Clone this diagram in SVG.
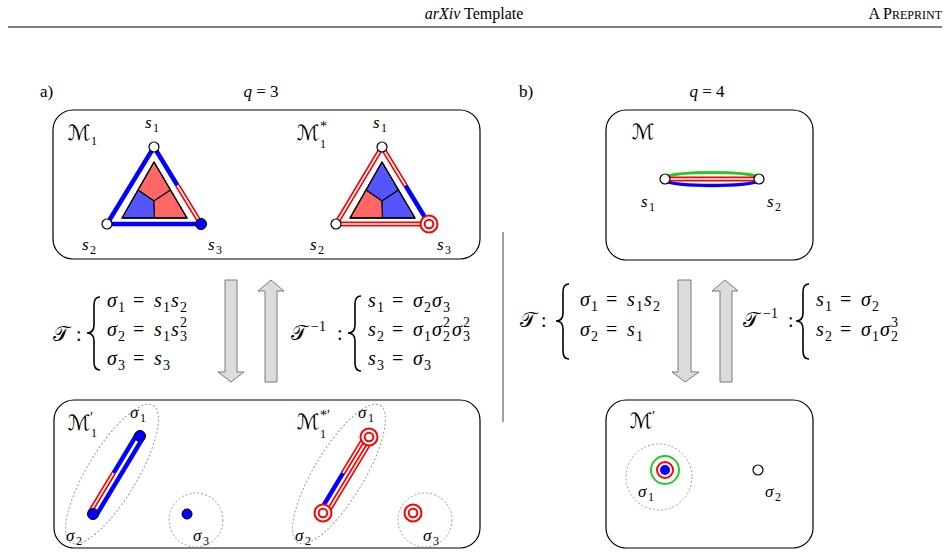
<svg xmlns="http://www.w3.org/2000/svg" width="948" height="557" viewBox="0 0 948 557">
<style>
text{font-family:"Liberation Serif","Times New Roman","DejaVu Serif",serif}
.t{fill:#000}
.m{font-style:italic;font-size:20px;fill:#000}
.m .d{font-style:normal;font-size:14px}
.m .u{font-style:normal}
.l{font-style:italic;font-size:17px;fill:#000}
.l .d{font-style:normal;font-size:12px}
.l .p{font-style:normal;font-size:14px}
.cal{font-family:"DejaVu Serif","DejaVu Sans","Noto Sans",serif;font-style:normal}
.box{fill:#fff;stroke:#000;stroke-width:1.2}
.node{fill:#fff;stroke:#000;stroke-width:1.2}
.bnode{fill:#0000ff;stroke:#000;stroke-width:1}
.blue{stroke:#0000ff;stroke-width:4.5;fill:none;stroke-linecap:butt}
.redo{stroke:#ff0000;stroke-width:5;fill:none}
.redi{stroke:#fff;stroke-width:1.6;fill:none}
.tri{stroke:#000;stroke-width:1.1;stroke-linejoin:round}
.dot{fill:none;stroke:#9a9a9a;stroke-width:1;stroke-dasharray:2 2}
.arr{fill:#dcdcdc;stroke:#7a7a7a;stroke-width:1}
.br{fill:none;stroke:#000;stroke-width:1.6}
.ring{fill:#fff;stroke:#ff0000;stroke-width:2}
</style>

<!-- header -->
<g id="header">
<text class="t" x="474" y="19" font-size="16" text-anchor="middle"><tspan font-style="italic">arXiv</tspan> Template</text>
<text class="t" x="942" y="19" font-size="16" text-anchor="end">A P<tspan font-size="12">REPRINT</tspan></text>
<line x1="8" y1="27" x2="942" y2="27" stroke="#000" stroke-width="1"/>
</g>

<g id="titles">
<text class="t" x="40" y="97" font-size="17">a)</text>
<text class="t" x="261" y="97" font-size="17" text-anchor="middle"><tspan font-style="italic">q</tspan> = 3</text>
<text class="t" x="519" y="97" font-size="17">b)</text>
<text class="t" x="707" y="97" font-size="17" text-anchor="middle"><tspan font-style="italic">q</tspan> = 4</text>
</g>

<line id="divider" x1="503" y1="232" x2="503" y2="422" stroke="#444" stroke-width="1"/>

<!-- boxes (background) -->
<g id="box-M1">
<rect class="box" x="53" y="110" width="427" height="149" rx="20"/>
<text class="l" x="68" y="140"><tspan class="cal" font-size="21">ℳ</tspan><tspan class="d" x="91" y="145">1</tspan></text>
<text class="l" x="297" y="140"><tspan class="cal" font-size="21">ℳ</tspan><tspan class="p" x="320" y="131">*</tspan><tspan class="d" x="320" y="148">1</tspan></text>
</g>
<g id="box-M1p">
<rect class="box" x="54" y="400" width="426" height="148" rx="20"/>
<text class="l" x="68" y="430"><tspan class="cal" font-size="21">ℳ</tspan><tspan class="p" x="90" y="422">′</tspan><tspan class="d" x="91" y="437">1</tspan></text>
<text class="l" x="297" y="429"><tspan class="cal" font-size="21">ℳ</tspan><tspan class="p" x="320" y="420">*′</tspan><tspan class="d" x="320" y="438">1</tspan></text>
</g>
<g id="box-M">
<rect class="box" x="606" y="110" width="207" height="150" rx="20"/>
<text class="l" x="632" y="139"><tspan class="cal" font-size="21">ℳ</tspan></text>
</g>
<g id="box-Mp">
<rect class="box" x="606" y="400" width="207" height="148" rx="20"/>
<text class="l" x="630" y="428"><tspan class="cal" font-size="21">ℳ</tspan><tspan class="p" x="652" y="421">′</tspan></text>
</g>

<g id="triangle-M1">
<polygon class="tri" fill="#ff6666" points="154,162 170.5,190 154,201 138,190"/>
<polygon class="tri" fill="#5555ff" points="138,190 154,201 154.5,218 122,218"/>
<polygon class="tri" fill="#ff6666" points="154,201 170.5,190 187,218 154.5,218"/>
<polygon points="154,162 122,218 187,218" fill="none" stroke="#000" stroke-width="1.3" stroke-linejoin="round"/>
</g>
<g id="triangle-M1star">
<polygon class="tri" fill="#5555ff" points="382,162 398.5,190 382,201 366,190"/>
<polygon class="tri" fill="#ff6666" points="366,190 382,201 382.5,218 350,218"/>
<polygon class="tri" fill="#5555ff" points="382,201 398.5,190 415,218 382.5,218"/>
<polygon points="382,162 350,218 415,218" fill="none" stroke="#000" stroke-width="1.3" stroke-linejoin="round"/>
</g>

<g id="regions">
<ellipse class="dot" cx="112" cy="474" rx="80" ry="25" transform="rotate(-59 112 474)"/>
<circle class="dot" cx="196" cy="520" r="27"/>
<ellipse class="dot" cx="339" cy="474" rx="80" ry="25" transform="rotate(-59 339 474)"/>
<circle class="dot" cx="425" cy="520" r="27"/>
<circle class="dot" cx="659" cy="477" r="33"/>
</g>

<g id="connectors">
<!-- M1 -->
<line class="blue" x1="154" y1="147" x2="107" y2="224"/>
<line class="blue" x1="107" y1="224" x2="201" y2="224"/>
<line class="blue" x1="154" y1="147" x2="177.5" y2="185.5"/>
<line class="redo" x1="177.5" y1="185.5" x2="201" y2="224"/>
<line class="redi" x1="177.5" y1="185.5" x2="201" y2="224"/>
<!-- M1* -->
<path class="redo" d="M405.5,185.5 L382,147 L336,224 L429,224"/>
<path class="redi" d="M405.5,185.5 L382,147 L336,224 L429,224"/>
<line class="blue" x1="405.5" y1="185.5" x2="429" y2="224"/>
<!-- M1' -->
<line class="blue" x1="96" y1="515.8" x2="143" y2="437.8"/>
<line class="blue" x1="113.5" y1="473.2" x2="137" y2="434.2"/>
<line class="redo" x1="90" y1="512.2" x2="113.5" y2="473.2"/>
<line class="redi" x1="90" y1="512.2" x2="113.5" y2="473.2"/>
<!-- M1*' -->
<line class="redo" x1="326" y1="514.8" x2="372" y2="438.8"/>
<line class="redi" x1="326" y1="514.8" x2="372" y2="438.8"/>
<line class="redo" x1="343" y1="473.2" x2="366" y2="435.2"/>
<line class="redi" x1="343" y1="473.2" x2="366" y2="435.2"/>
<line class="blue" x1="320" y1="511.2" x2="343" y2="473.2"/>
<!-- M (q=4) -->
<path d="M665,177 C680,171 744,171 759,177" fill="none" stroke="#22cc22" stroke-width="3"/>
<path d="M665,181 C680,187 744,187 759,181" fill="none" stroke="#0000ff" stroke-width="3.5"/>
<line class="redo" x1="665" y1="179" x2="759" y2="179"/>
<line class="redi" x1="665" y1="179" x2="759" y2="179"/>
</g>

<g id="nodes-M1">
<circle class="node" cx="154" cy="147" r="5"/>
<circle class="node" cx="107" cy="224" r="5"/>
<circle class="bnode" cx="201" cy="224" r="5.5"/>
<text class="l" x="145" y="128">s<tspan class="d" x="153" y="132">1</tspan></text>
<text class="l" x="82" y="250">s<tspan class="d" x="90" y="254">2</tspan></text>
<text class="l" x="208" y="250">s<tspan class="d" x="216" y="254">3</tspan></text>
</g>
<g id="nodes-M1star">
<circle class="node" cx="382" cy="147" r="5"/>
<circle class="node" cx="336" cy="224" r="5"/>
<circle class="ring" cx="429" cy="224" r="8.5"/>
<circle class="ring" cx="429" cy="224" r="4.3"/>
<text class="l" x="373" y="128">s<tspan class="d" x="381" y="132">1</tspan></text>
<text class="l" x="310" y="250">s<tspan class="d" x="318" y="254">2</tspan></text>
<text class="l" x="437" y="250">s<tspan class="d" x="445" y="254">3</tspan></text>
</g>

<!-- ========== panel a transforms ========== -->
<g id="transform-a">
<text class="m" x="53" y="341"><tspan class="cal" font-size="21">𝒯</tspan><tspan class="u" x="76" y="341">:</tspan></text>
<path class="br" d="M100,297 Q94,297 94,305 V325 Q94,333 87,333 Q94,333 94,341 V362 Q94,370 100,370"/>
<text class="m"><tspan x="107" y="307">σ</tspan><tspan class="d" x="118" y="312">1</tspan><tspan class="u" x="133" y="307">=</tspan><tspan x="154" y="307">s</tspan><tspan class="d" x="163" y="312">1</tspan><tspan x="171" y="307">s</tspan><tspan class="d" x="180" y="312">2</tspan></text>
<text class="m"><tspan x="107" y="336">σ</tspan><tspan class="d" x="118" y="341">2</tspan><tspan class="u" x="133" y="336">=</tspan><tspan x="154" y="336">s</tspan><tspan class="d" x="163" y="341">1</tspan><tspan x="171" y="336">s</tspan><tspan class="d" x="180" y="341">3</tspan><tspan class="d" x="180" y="327">2</tspan></text>
<text class="m"><tspan x="107" y="365">σ</tspan><tspan class="d" x="118" y="370">3</tspan><tspan class="u" x="133" y="365">=</tspan><tspan x="154" y="365">s</tspan><tspan class="d" x="163" y="370">3</tspan></text>

<polygon class="arr" points="225,280 237,280 237,372 244,372 231,382 218,372 225,372"/>
<polygon class="arr" points="271,280 284,291 277,291 277,382 265,382 265,291 258,291"/>

<text class="m" x="291" y="340"><tspan class="cal" font-size="21">𝒯</tspan><tspan class="d" x="311" y="331">−1</tspan><tspan class="u" x="337" y="340">:</tspan></text>
<path class="br" d="M361,296 Q355,296 355,304 V325 Q355,333 348,333 Q355,333 355,341 V363 Q355,371 361,371"/>
<text class="m"><tspan x="368" y="307">s</tspan><tspan class="d" x="377" y="312">1</tspan><tspan class="u" x="392" y="307">=</tspan><tspan x="413" y="307">σ</tspan><tspan class="d" x="424" y="312">2</tspan><tspan x="432" y="307">σ</tspan><tspan class="d" x="443" y="312">3</tspan></text>
<text class="m"><tspan x="368" y="336">s</tspan><tspan class="d" x="377" y="341">2</tspan><tspan class="u" x="392" y="336">=</tspan><tspan x="413" y="336">σ</tspan><tspan class="d" x="424" y="341">1</tspan><tspan x="432" y="336">σ</tspan><tspan class="d" x="443" y="341">2</tspan><tspan class="d" x="443" y="327">2</tspan><tspan x="452" y="336">σ</tspan><tspan class="d" x="463" y="341">3</tspan><tspan class="d" x="463" y="327">2</tspan></text>
<text class="m"><tspan x="368" y="365">s</tspan><tspan class="d" x="377" y="370">3</tspan><tspan class="u" x="392" y="365">=</tspan><tspan x="413" y="365">σ</tspan><tspan class="d" x="424" y="370">3</tspan></text>
</g>

<!-- ========== panel a bottom nodes ========== -->
<g id="nodes-M1p">
<circle class="bnode" cx="140" cy="436" r="5.5"/>
<circle class="bnode" cx="93" cy="514" r="5.5"/>
<circle class="bnode" cx="187" cy="514" r="5"/>
<text class="l" x="130" y="418">σ<tspan class="d" x="140" y="422">1</tspan></text>
<text class="l" x="66" y="541">σ<tspan class="d" x="76" y="545">2</tspan></text>
<text class="l" x="193" y="541">σ<tspan class="d" x="203" y="545">3</tspan></text>
</g>
<g id="nodes-M1starp">
<circle class="ring" cx="369" cy="437" r="8.5"/>
<circle class="ring" cx="369" cy="437" r="4.3"/>
<circle class="ring" cx="323" cy="513" r="8.5"/>
<circle class="ring" cx="323" cy="513" r="4.3"/>
<circle class="ring" cx="413" cy="513" r="8.5"/>
<circle class="ring" cx="413" cy="513" r="4.3"/>
<text class="l" x="358" y="418">σ<tspan class="d" x="368" y="422">1</tspan></text>
<text class="l" x="295" y="541">σ<tspan class="d" x="305" y="545">2</tspan></text>
<text class="l" x="423" y="541">σ<tspan class="d" x="433" y="545">3</tspan></text>
</g>

<!-- ========== panel b ========== -->
<g id="nodes-M">
<circle class="node" cx="665" cy="179" r="5"/>
<circle class="node" cx="759" cy="179" r="5"/>
<text class="l" x="641" y="207">s<tspan class="d" x="649" y="211">1</tspan></text>
<text class="l" x="767" y="207">s<tspan class="d" x="775" y="211">2</tspan></text>
</g>

<g id="transform-b">
<text class="m" x="520" y="327"><tspan class="cal" font-size="21">𝒯</tspan><tspan class="u" x="541" y="327">:</tspan></text>
<path class="br" d="M569,284 Q563,284 563,292 V313 Q563,321 556,321 Q563,321 563,329 V351 Q563,359 569,359"/>
<text class="m"><tspan x="580" y="306">σ</tspan><tspan class="d" x="591" y="311">1</tspan><tspan class="u" x="606" y="306">=</tspan><tspan x="627" y="306">s</tspan><tspan class="d" x="636" y="311">1</tspan><tspan x="644" y="306">s</tspan><tspan class="d" x="653" y="311">2</tspan></text>
<text class="m"><tspan x="580" y="336">σ</tspan><tspan class="d" x="591" y="341">2</tspan><tspan class="u" x="606" y="336">=</tspan><tspan x="627" y="336">s</tspan><tspan class="d" x="636" y="341">1</tspan></text>

<polygon class="arr" points="678,280 691,280 691,372 699,372 685,382 672,372 678,372"/>
<polygon class="arr" points="725,280 738,291 732,291 732,382 720,382 720,291 712,291"/>

<text class="m" x="743" y="327"><tspan class="cal" font-size="21">𝒯</tspan><tspan class="d" x="763" y="318">−1</tspan><tspan class="u" x="788" y="327">:</tspan></text>
<path class="br" d="M809,284 Q803,284 803,292 V313 Q803,321 796,321 Q803,321 803,329 V351 Q803,359 809,359"/>
<text class="m"><tspan x="816" y="306">s</tspan><tspan class="d" x="825" y="311">1</tspan><tspan class="u" x="840" y="306">=</tspan><tspan x="861" y="306">σ</tspan><tspan class="d" x="872" y="311">2</tspan></text>
<text class="m"><tspan x="816" y="336">s</tspan><tspan class="d" x="825" y="341">2</tspan><tspan class="u" x="840" y="336">=</tspan><tspan x="861" y="336">σ</tspan><tspan class="d" x="872" y="341">1</tspan><tspan x="880" y="336">σ</tspan><tspan class="d" x="891" y="341">2</tspan><tspan class="d" x="891" y="327">3</tspan></text>
</g>

<g id="nodes-Mp">
<circle cx="665" cy="470" r="14" fill="none" stroke="#22cc22" stroke-width="2"/>
<circle cx="665" cy="470" r="8" fill="#fff" stroke="#ff0000" stroke-width="2"/>
<circle cx="665" cy="470" r="5" fill="#0000ff"/>
<circle class="node" cx="758" cy="470" r="5"/>
<text class="l" x="638" y="497">σ<tspan class="d" x="648" y="501">1</tspan></text>
<text class="l" x="765" y="497">σ<tspan class="d" x="775" y="501">2</tspan></text>
</g>
</svg>
